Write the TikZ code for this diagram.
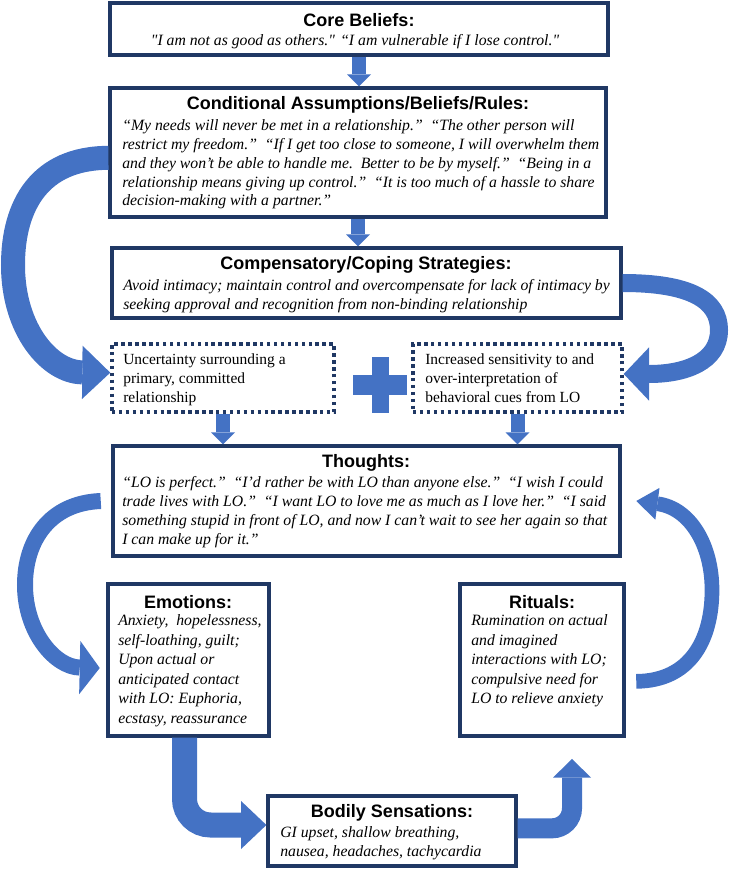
\documentclass[tikz,border=0pt]{standalone}
\usepackage{fontspec}
\setmainfont{Liberation Serif}
\setsansfont{Liberation Sans}
\usepackage{tikz}
\usetikzlibrary{arrows.meta,positioning,calc}

\definecolor{boxnavy}{RGB}{32,56,100}
\definecolor{arrowblue}{RGB}{68,114,196}

\tikzset{
  box/.style={draw=boxnavy, line width=2.4pt, fill=white, inner sep=0pt},
  dotbox/.style={draw=boxnavy, line width=2.6pt, dash pattern=on 2.6pt off 2.6pt, fill=white, inner sep=0pt},
  ttl/.style={font=\sffamily\bfseries\fontsize{13.5}{16}\selectfont, inner sep=0pt},
  txt/.style={font=\itshape\fontsize{11.8}{14.1}\selectfont, align=left, inner sep=0pt, anchor=north west},
  plaintxt/.style={font=\fontsize{11.6}{14.3}\selectfont, align=left, inner sep=0pt, anchor=north west},
  downarrow/.style={draw=arrowblue, line width=10.5pt, -{Triangle[width=18pt,length=9pt,line width=0pt]}},
  bigcurve/.style={draw=arrowblue, line width=18pt, -{Triangle[width=40pt,length=21pt,line width=0pt]}},
  sidecurve/.style={draw=arrowblue, line width=13.5pt, -{Triangle[width=40pt,length=19pt,line width=0pt]}},
  loopcurve/.style={draw=arrowblue, line width=12pt, -{Triangle[width=40pt,length=15pt,line width=0pt]}},
  ritcurve/.style={draw=arrowblue, line width=11pt, -{Triangle[width=24pt,length=16pt,line width=0pt]}},
  elbowarrow/.style={draw=arrowblue, line width=18.75pt, rounded corners=19.5pt, -{Triangle[width=36pt,length=19pt,line width=0pt]}},
  risearrow/.style={draw=arrowblue, line width=15pt, rounded corners=15pt, -{Triangle[width=28.5pt,length=14pt,line width=0pt]}}
}

\begin{document}
\begin{tikzpicture}[x=0.75pt, y=-0.75pt]
\useasboundingbox (0,0) rectangle (730,870);

% Core beliefs
\node[box, minimum width=373.5pt, minimum height=39pt] (core) at (359,29) {};
\node[ttl] (coretitle) at (359,20) {Core Beliefs:};
\node[txt, anchor=north, align=center] (coretext) at (355,34.5) {\textquotedbl I am not as good as others.\textquotedbl{} “I am vulnerable if I lose control.\textquotedbl};

% Conditional assumptions
\node[box, minimum width=372pt, minimum height=96.75pt] (cond) at (358,152.5) {};
\node[ttl] (condtitle) at (358,105) {Conditional Assumptions/Beliefs/Rules:};
\node[txt] (condtext) at (122,119.5) {“My needs will never be met in a relationship.”~~“The other person will\\
restrict my freedom.”~~“If I get too close to someone, I will overwhelm them\\
and they won’t be able to handle me.~~Better to be by myself.”~~“Being in a\\
relationship means giving up control.”~~“It is too much of a hassle to share\\
decision-making with a partner.”};

% Compensatory strategies
\node[box, minimum width=381.75pt, minimum height=52.5pt] (comp) at (366.5,283) {};
\node[ttl] (comptitle) at (366,265) {Compensatory/Coping Strategies:};
\node[txt] (comptext) at (123,279.5) {Avoid intimacy; maintain control and overcompensate for lack of intimacy by\\
seeking approval and recognition from non-binding relationship};

% Dotted boxes
\node[dotbox, minimum width=166.5pt, minimum height=51pt] (unc) at (223,378) {};
\node[plaintxt] (unctext) at (123,353) {Uncertainty surrounding a\\ primary, committed\\ relationship};
\node[dotbox, minimum width=156.75pt, minimum height=51pt] (sens) at (517.5,378) {};
\node[plaintxt] (senstext) at (425,353) {Increased sensitivity to and\\ over-interpretation of\\ behavioral cues from LO};

% Plus sign
\fill[arrowblue] (353,375) rectangle (407,395);
\fill[arrowblue] (371.5,357) rectangle (388.5,413);

% Thoughts
\node[box, minimum width=380.25pt, minimum height=82.5pt] (thou) at (366.5,501) {};
\node[ttl] (thoutitle) at (366,463) {Thoughts:};
\node[txt] (thoutext) at (122,476.5) {“LO is perfect.”~~“I’d rather be with LO than anyone else.”~~“I wish I could\\
trade lives with LO.”~~“I want LO to love me as much as I love her.”~~“I said\\
something stupid in front of LO, and now I can’t wait to see her again so that\\
I can make up for it.”};

% Emotions
\node[box, minimum width=120.75pt, minimum height=114pt] (emo) at (188.5,660) {};
\node[ttl] (emotitle) at (188,602) {Emotions:};
\node[txt, font=\itshape\fontsize{11.8}{14.6}\selectfont] (emotext) at (118,614.5) {Anxiety,~ hopelessness,\\ self-loathing, guilt;\\ Upon actual or\\ anticipated contact\\ with LO: Euphoria,\\ ecstasy, reassurance};

% Rituals
\node[box, minimum width=123pt, minimum height=114pt] (rit) at (542,660) {};
\node[ttl] (rittitle) at (542,602) {Rituals:};
\node[txt, font=\itshape\fontsize{11.8}{14.6}\selectfont] (rittext) at (471,614.5) {Rumination on actual\\ and imagined\\ interactions with LO;\\ compulsive need for\\ LO to relieve anxiety};

% Bodily sensations
\node[box, minimum width=186pt, minimum height=52.5pt] (body) at (392,831) {};
\node[ttl] (bodytitle) at (392,813) {Bodily Sensations:};
\node[txt] (bodytext) at (280,826.5) {GI upset, shallow breathing,\\ nausea, headaches, tachycardia};

% Arrows: straight down
\draw[downarrow] (core.south) -- (core.south |- cond.north);
\draw[downarrow] (cond.south) -- (cond.south |- comp.north);
\draw[downarrow] (unc.south) -- (unc.south |- thou.north);
\draw[downarrow] (sens.south) -- (sens.south |- thou.north);

% Arrows: curved
\draw[bigcurve] ([yshift=-4pt]cond.west) .. controls (40,158) and (13,205) .. (13,265) .. controls (13,330) and (50,372) .. ([yshift=4pt]unc.west);
\draw[sidecurve] (comp.east) .. controls (690,283) and (719,300) .. (719,330) .. controls (719,362) and (685,374) .. ([yshift=3pt]sens.east);
\draw[loopcurve] ([xshift=-8pt]thou.west) .. controls (50,503) and (25,540) .. (25,585) .. controls (25,632) and (55,667) .. ([xshift=-5pt,yshift=-6pt]emo.west);
\draw[ritcurve] ([xshift=8pt,yshift=-16pt]rit.east) .. controls (690,681) and (712,640) .. (712,590) .. controls (712,545) and (690,508) .. ([xshift=11pt]thou.east);

% Arrows: elbows
\draw[elbowarrow] ([xshift=-3pt]emo.south) |- ([yshift=4.5pt]body.west);
\draw[risearrow] ([yshift=2pt]body.east) -| ([xshift=22.5pt,yshift=-16pt]rit.south);

\end{tikzpicture}
\end{document}
